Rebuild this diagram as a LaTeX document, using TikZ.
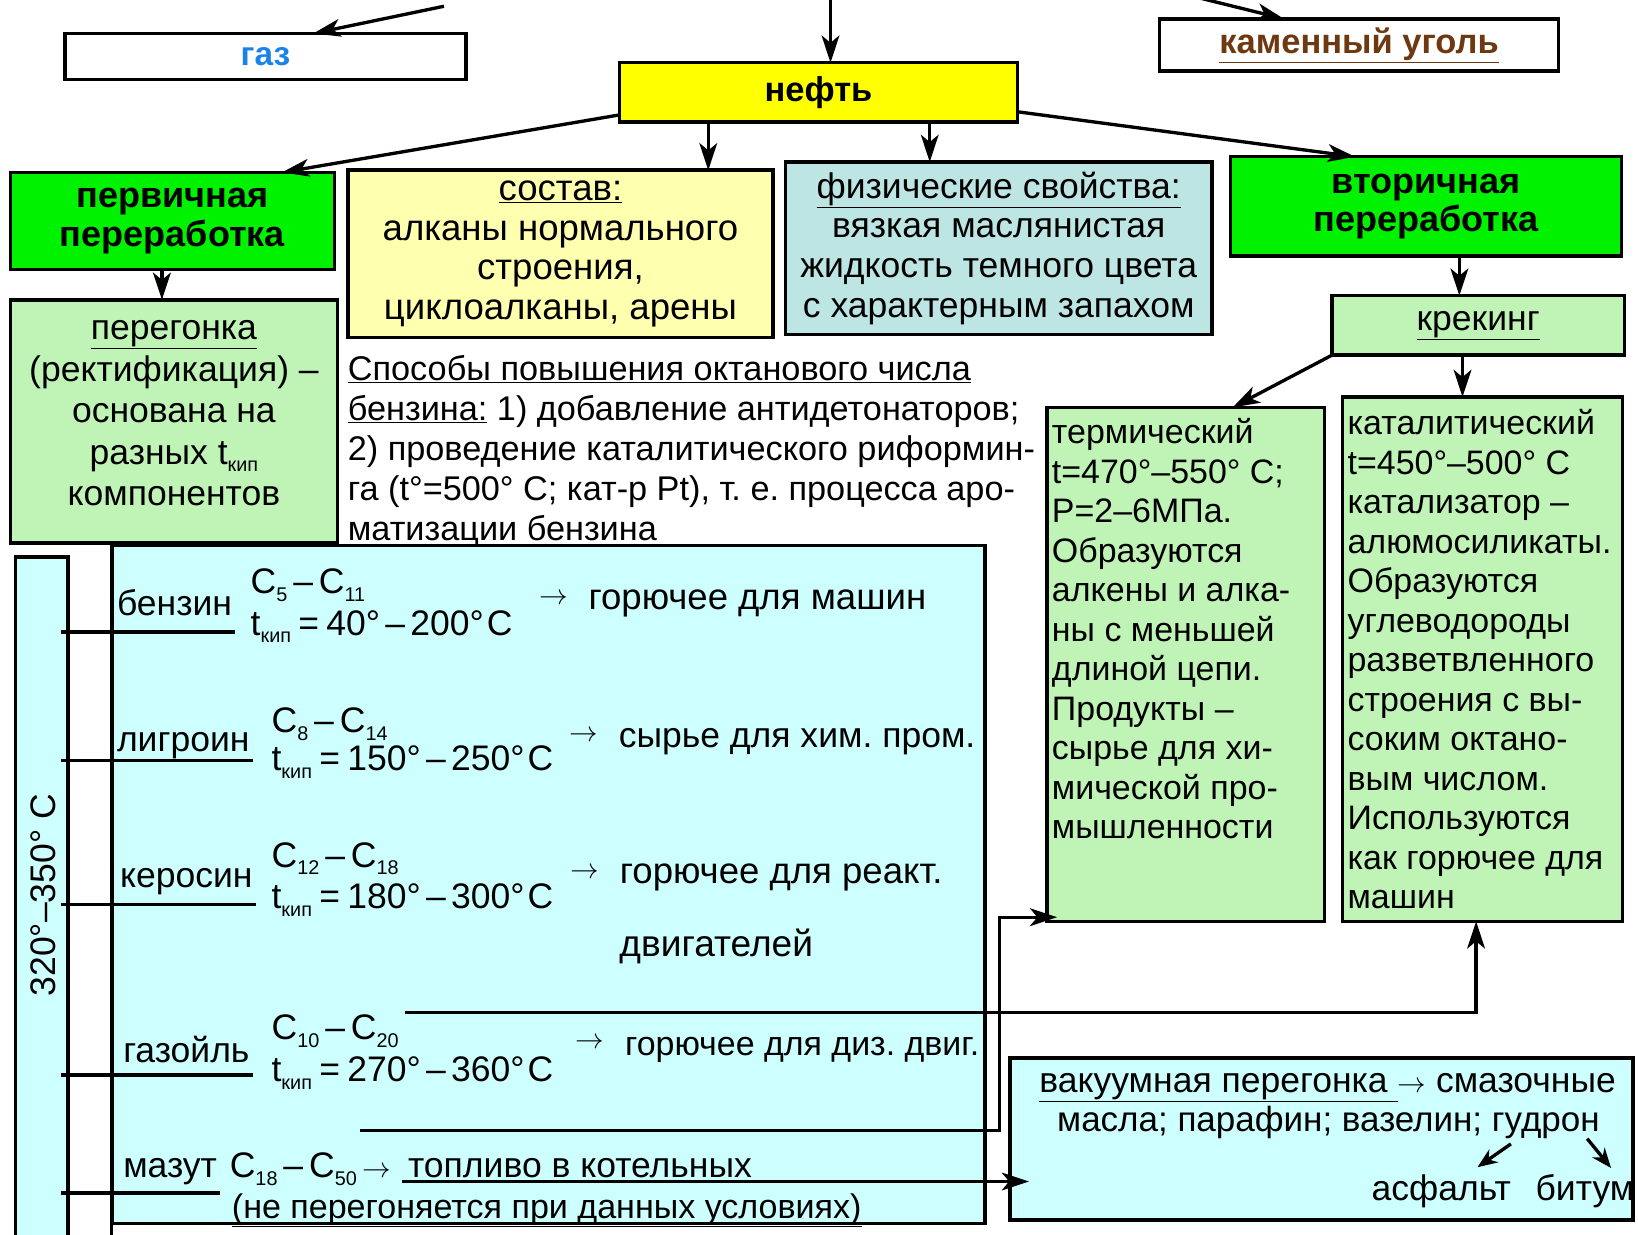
\documentclass[tikz,border=0pt]{standalone}
\usepackage{fontspec}
\usepackage{graphicx}
\setmainfont{Liberation Sans}
\usetikzlibrary{arrows.meta,calc}
\definecolor{bgreen}{RGB}{0,242,0}
\definecolor{lgreen}{RGB}{192,244,182}
\definecolor{lyellow}{RGB}{255,255,176}
\definecolor{lteal}{RGB}{188,229,228}
\definecolor{lcyan}{RGB}{206,255,255}
\definecolor{yel}{RGB}{255,255,0}
\definecolor{gasblue}{RGB}{25,130,235}
\definecolor{coalbrown}{RGB}{110,56,16}
\newcommand\mysub[1]{\raisebox{-0.22em}{\fontsize{19}{19}\selectfont #1}}
\newcommand\rarr{\scalebox{1.1}{$\rightarrow$}}
\newcommand\tkip[2]{t\mysub{кип}\hspace{7pt}=\hspace{7pt}#1°\hspace{5pt}–\hspace{5pt}#2°\hspace{3pt}C}
\begin{document}
\frenchspacing
\begin{tikzpicture}[x=1pt,y=-1pt,
  bx/.style={draw, line width=3.4pt, inner sep=0pt, outer sep=0pt},
  txt/.style={font=\fontsize{34}{38}\selectfont, inner sep=0pt, outer sep=0pt},
  ftxt/.style={txt, anchor=base west},
  arr/.style={-{Stealth[length=26pt,width=17pt,inset=7pt]}, line width=3.2pt},
  sarr/.style={-{Stealth[length=19pt,width=15pt,inset=6pt]}, line width=3.2pt},
  ln/.style={line width=3.2pt},
]
\fill[white] (0,0) rectangle (1568,1182);
\useasboundingbox (0,0) rectangle (1568,1182);

% top row
\node[bx, minimum width=384pt, minimum height=44pt, txt, font=\bfseries\fontsize{32}{36}\selectfont, text=gasblue] (gaz) at (254,54) {газ};
\node[bx, fill=yel, minimum width=381pt, minimum height=57pt, txt, font=\bfseries\fontsize{33}{36}\selectfont] (neft) at (783.5,88.5) {нефть};
\node[bx, minimum width=382pt, minimum height=50pt, txt, font=\bfseries\fontsize{33}{36}\selectfont, text=coalbrown] (ugol) at (1301,43) {\underline{каменный уголь}};

\coordinate (top1) at (425,6);
\coordinate (top2) at (795,-2);
\coordinate (top3) at (1148,-2);
\draw[arr] (top1) -- ([xshift=46pt]gaz.north);
\draw[arr] (top2) -- (top2 |- neft.north);
\draw[arr] (top3) -- ([xshift=-72pt]ugol.north);

% second row
\node[bx, fill=bgreen, minimum width=310pt, minimum height=93pt, txt, font=\bfseries\fontsize{34.5}{37}\selectfont, align=center] (perv) at (165,211.5) {первичная\\переработка};
\node[bx, fill=lyellow, minimum width=407pt, minimum height=160pt, txt, font=\fontsize{35}{38}\selectfont, align=center] (sostav) at (536.5,243) {\underline{состав:}\\алканы нормального\\строения,\\циклоалканы, арены};
\node[bx, fill=lteal, minimum width=408pt, minimum height=165pt, txt, align=center] (fiz) at (956,237.5) {\underline{физические свойства:}\\вязкая маслянистая\\жидкость темного цвета\\с характерным запахом};
\node[bx, fill=bgreen, minimum width=374pt, minimum height=95pt, txt, font=\bfseries\fontsize{34.5}{36}\selectfont, align=center] (vtor) at (1365,197.5) {вторичная\\переработка};

\draw[arr] ([yshift=7pt]neft.south west) -- ([xshift=-50pt]perv.north east);
\draw[arr] ([xshift=-105.5pt]neft.south) -- ([xshift=-105.5pt]neft.south |- sostav.north);
\draw[arr] ([xshift=106.5pt]neft.south) -- ([xshift=106.5pt]neft.south |- fiz.north);
\draw[arr] ([yshift=10pt]neft.south east) -- ([xshift=-68pt]vtor.north);

% third row
\node[bx, fill=lgreen, minimum width=313pt, minimum height=233pt] (pereg) at (166.5,403.5) {};
\node[txt, font=\fontsize{34}{39.7}\selectfont, align=center, anchor=base] (peregT) at (166.5,484) {\underline{перегонка}\\(ректификация) –\\основана на\\разных t\mysub{кип}\\компонентов};
\node[bx, fill=lgreen, minimum width=280pt, minimum height=57pt, txt] (krek) at (1415,311.5) {\underline{крекинг}};

\draw[arr] ([xshift=-10pt]perv.south) -- ([xshift=-10pt]perv.south |- pereg.north);
\draw[arr] ([xshift=32pt]vtor.south) -- ([xshift=32pt]vtor.south |- krek.north);

\node[txt, anchor=base west, align=left, font=\fontsize{32.8}{38.25}\selectfont] (spos) at (333,517) {\underline{Способы повышения октанового числа}\\\underline{бензина:} 1) добавление антидетонаторов;\\2) проведение каталитического риформин-\\га (t°=500° С; кат-р Pt), т. е. процесса аро-\\матизации бензина};

\node[bx, fill=lgreen, minimum width=266pt, minimum height=492pt] (term) at (1135,636) {};
\node[txt, anchor=base west, align=left, font=\fontsize{32.5}{37.8}\selectfont] (termT) at (1007,803) {термический\\t=470°–550° С;\\Р=2–6МПа.\\Образуются\\алкены и алка-\\ны с меньшей\\длиной цепи.\\Продукты –\\сырье для хи-\\мической про-\\мышленности};
\node[bx, fill=lgreen, minimum width=268pt, minimum height=502pt] (katal) at (1419,631) {};
\node[txt, anchor=base west, align=left, font=\fontsize{32.5}{37.8}\selectfont] (katalT) at (1290,870) {каталитический\\t=450°–500° С\\катализатор –\\алюмосиликаты.\\Образуются\\углеводороды\\разветвленного\\строения с вы-\\соким октано-\\вым числом.\\Используются\\как горючее для\\машин};

\draw[arr] (krek.south west) -- ([xshift=45pt]term.north);
\draw[arr] ([xshift=-15pt]krek.south) -- ([xshift=-15pt]krek.south |- katal.north);

% fractions
\node[bx, fill=lcyan, minimum width=50pt, minimum height=700pt] (strip) at (40,883) {};
\node[txt, rotate=90] (stripT) at (41,857) {320°–350° С};
\node[bx, fill=lcyan, minimum width=836pt, minimum height=649pt] (frac) at (525,846.5) {};
\draw[ln] (frac.south west) -- ++(0,20);

\node[ftxt] (benz) at (112,589) {бензин};
\node[ftxt] (benzC) at (240,568) {C\mysub{5}\,–\,C\mysub{11}};
\node[ftxt] (benzT) at (240,608) {\tkip{40}{200}};
\node[ftxt, font=\fontsize{35}{38}\selectfont] (benzU) at (516,583) {\raisebox{4pt}{\rarr}\hspace{20pt}горючее для машин};

\node[ftxt] (lig) at (112,719) {лигроин};
\node[ftxt] (ligC) at (260,701) {C\mysub{8}\,–\,C\mysub{14}};
\node[ftxt] (ligT) at (260,738) {\tkip{150}{250}};
\node[ftxt] (ligU) at (545,716) {\raisebox{6pt}{\rarr}\hspace{20pt}сырье для хим. пром.};

\node[ftxt] (ker) at (115,850) {керосин};
\node[ftxt] (kerC) at (260,830) {C\mysub{12}\,–\,C\mysub{18}};
\node[ftxt] (kerT) at (260,870) {\tkip{180}{300}};
\node[ftxt, font=\fontsize{35}{38}\selectfont] (kerU) at (546,846) {\raisebox{5pt}{\rarr}\hspace{20pt}горючее для реакт.};
\node[ftxt, font=\fontsize{35.5}{38}\selectfont] (kerU2) at (593,916) {двигателей};

\node[ftxt] (gzl) at (118,1017) {газойль};
\node[ftxt] (gzlC) at (260,995) {C\mysub{10}\,–\,C\mysub{20}};
\node[ftxt] (gzlT) at (260,1035) {\tkip{270}{360}};
\node[ftxt, font=\fontsize{32.5}{38}\selectfont] (gzlU) at (551,1010) {\raisebox{6pt}{\rarr}\hspace{20pt}горючее для диз. двиг.};

\node[ftxt] (maz) at (118,1127) {мазут};
\node[ftxt] (mazC) at (220,1127) {C\mysub{18}\,–\,C\mysub{50}\,\rarr\hspace{16pt}топливо в котельных};
\node[ftxt, font=\fontsize{32.6}{38}\selectfont] (mazN) at (222,1166) {\underline{(не перегоняется при данных условиях)}};

\foreach \nm/\dy in {benz/16, lig/9, ker/16, gzl/12, maz/15} {
  \path (\nm.base east) ++(3,\dy) coordinate (\nm-u);
  \draw[ln] (\nm-u -| strip.east) ++(-7,0) -- (\nm-u);
}

% vacuum box
\node[bx, fill=lcyan, minimum width=596pt, minimum height=155pt] (vak) at (1265,1090.5) {};
\node[ftxt] (vak1) at (995,1046) {\underline{вакуумная перегонка }\rarr\ смазочные};
\node[ftxt, font=\fontsize{33.5}{38}\selectfont] (vak2) at (1012,1083) {масла; парафин; вазелин; гудрон};
\node[ftxt] (asf) at (1313,1149) {асфальт};
\node[ftxt] (bit) at (1470,1149) {битум};
\draw[sarr] ($(vak2.base east)+(-85,12)$) -- ($(asf.north east)+(-32,-7)$);
\draw[sarr] ($(vak2.base east)+(-12,7)$) -- ($(bit.north)+(25,-6)$);

% connectors from fractions
\coordinate (c1s) at (388,969);
\draw[arr] (c1s) -| ([xshift=-6pt]katal.south);
\coordinate (c2s) at (345,1082);
\draw[arr] (c2s) -- ++(612,0) |- ([xshift=10pt,yshift=4pt]term.south west);
\coordinate (c3s) at (385,1131);
\draw[arr] (c3s) -- ($(c3s -| vak.west)+(18,0)$);
\end{tikzpicture}
\end{document}
